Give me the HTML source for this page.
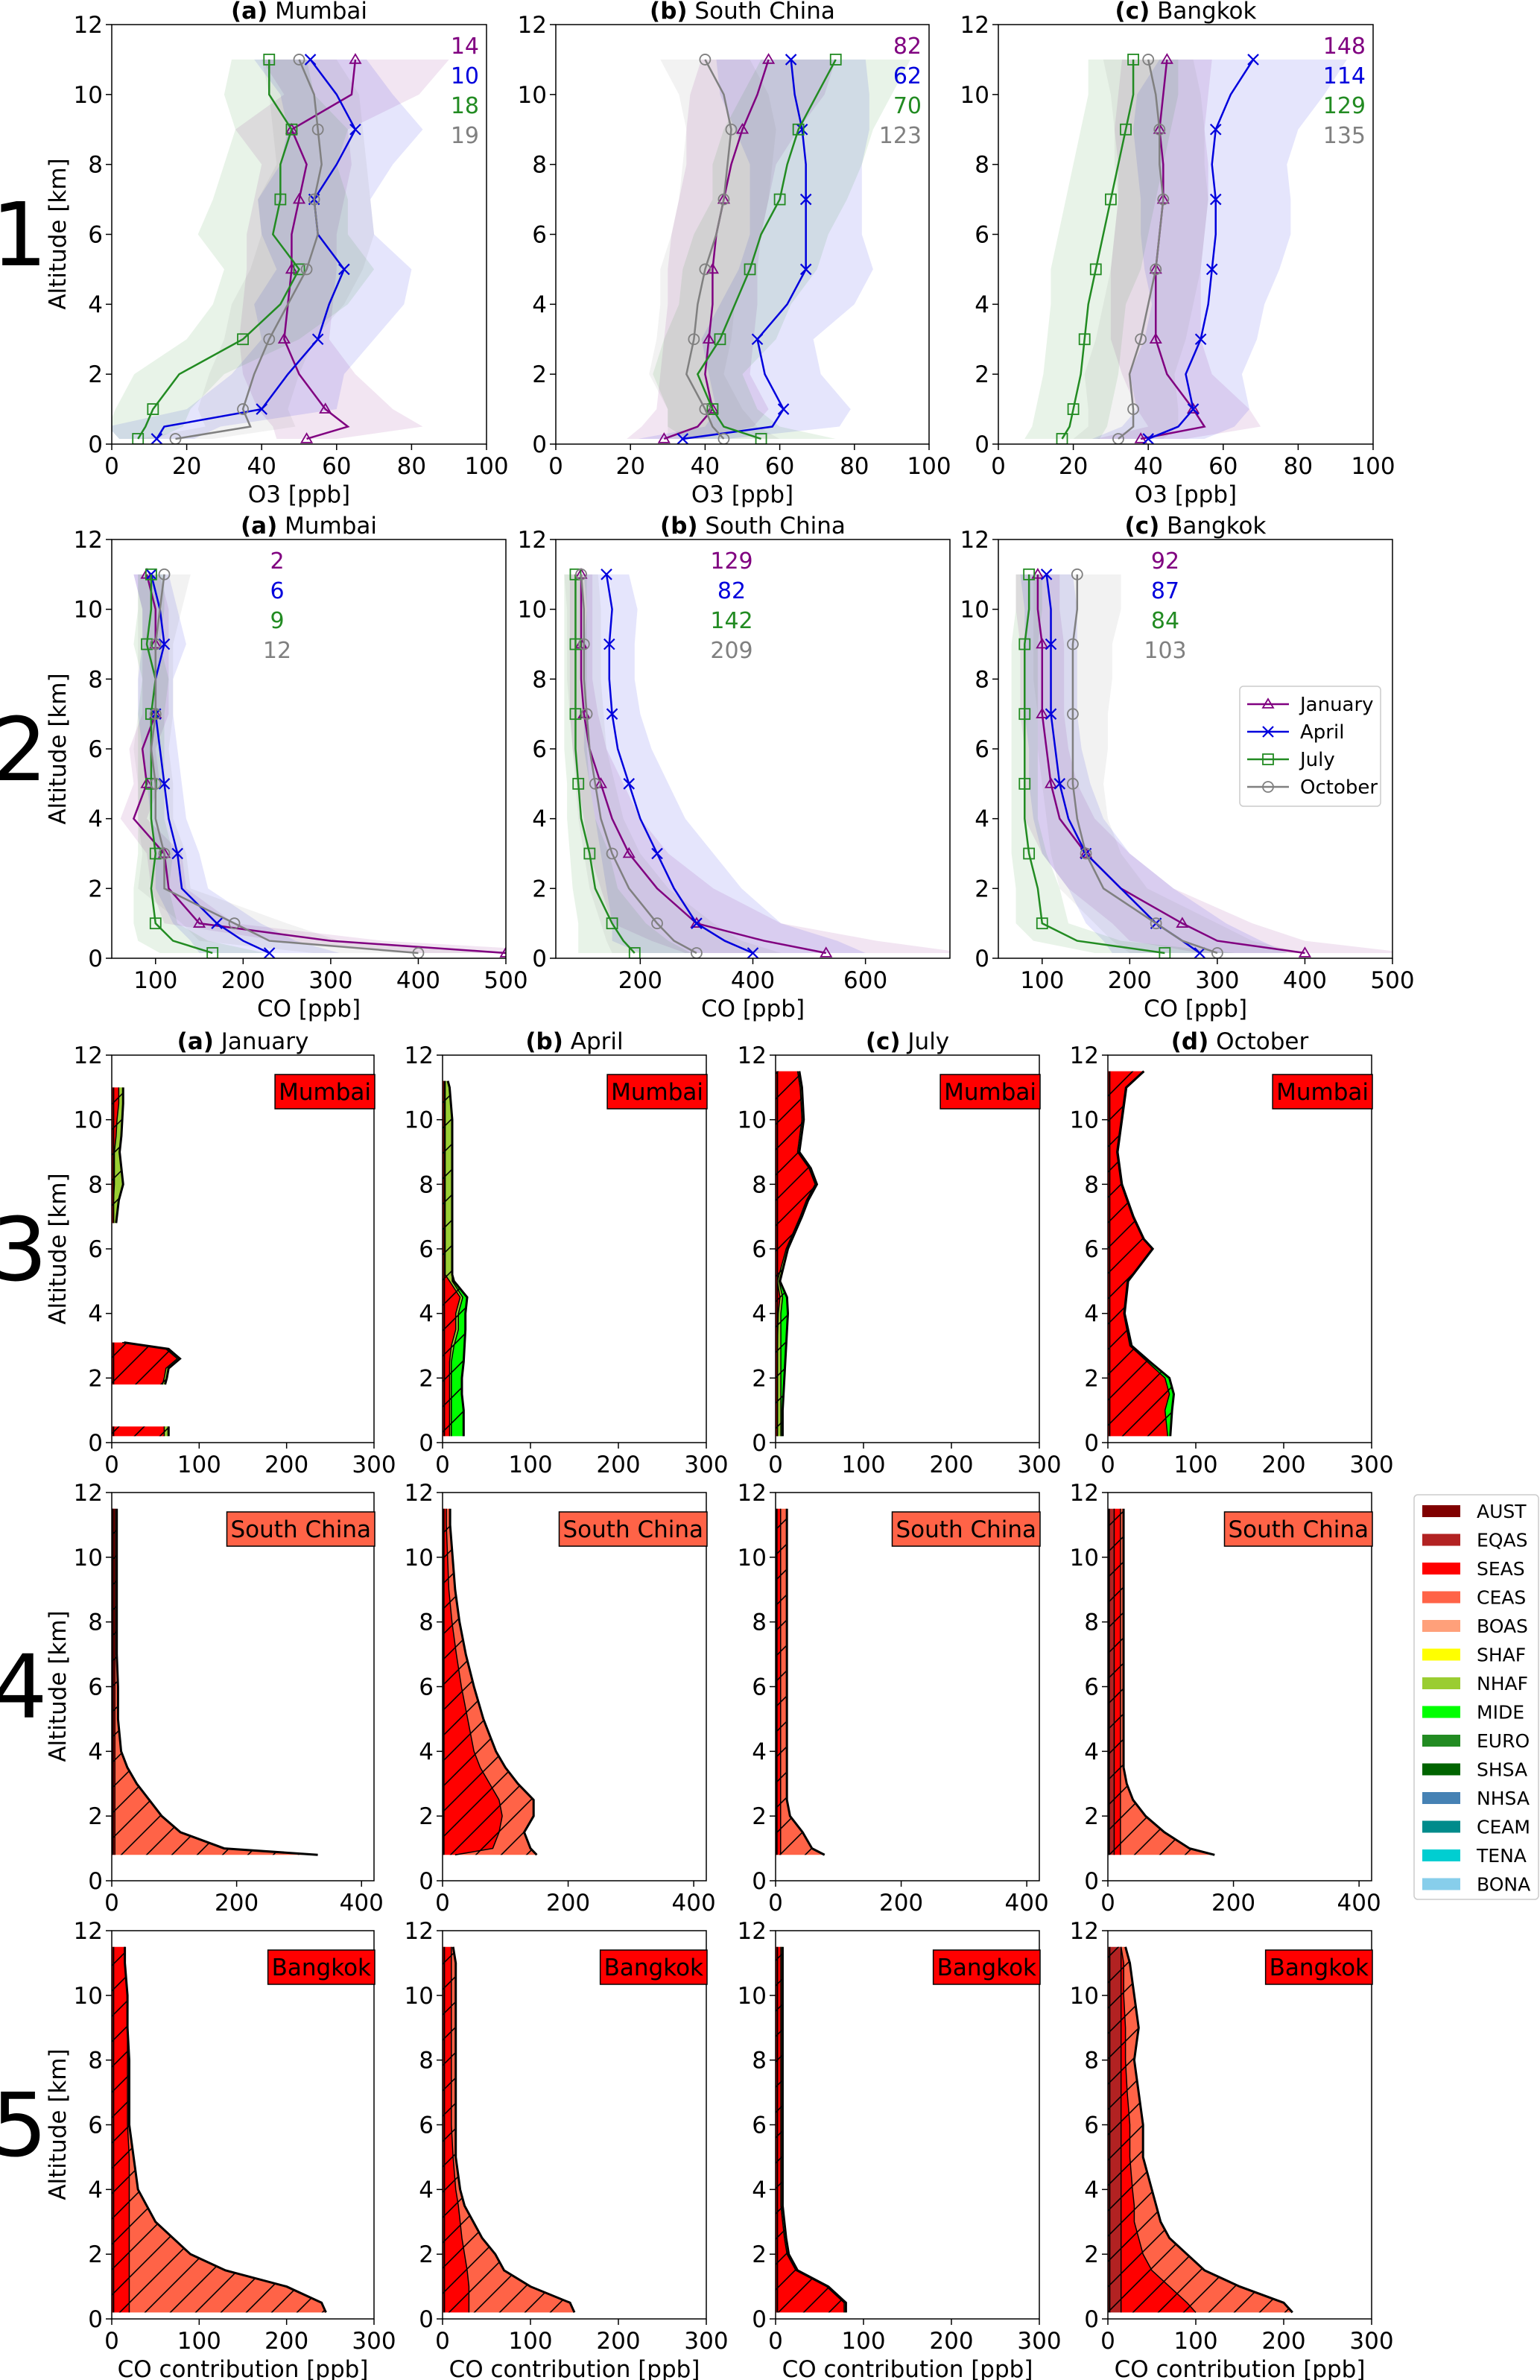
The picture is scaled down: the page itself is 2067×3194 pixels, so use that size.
<!DOCTYPE html>
<html><head><meta charset="utf-8">
<style>
html,body{margin:0;padding:0;background:#fff;}
svg{display:block;font-family:"DejaVu Sans","Liberation Sans",sans-serif;}
</style></head>
<body>
<svg id="fig" width="2067" height="3194" viewBox="0 0 2067 3194" xmlns="http://www.w3.org/2000/svg">
<defs>
<pattern id="hatch" patternUnits="userSpaceOnUse" width="34" height="34">
<line x1="0" y1="34" x2="34" y2="0" stroke="#000" stroke-width="1.6"/>
<line x1="-4" y1="4" x2="4" y2="-4" stroke="#000" stroke-width="1.6"/>
<line x1="30" y1="38" x2="38" y2="30" stroke="#000" stroke-width="1.6"/>
</pattern>
</defs>
</svg>
<script>
// ===== Profile data (rows 1-2) =====
const alt = [0.15,0.5,1,2,3,4,5,6,7,8,9,10,11];
const months = ['January','April','July','October'];
// Row 1 O3 [ppb]
const o3MumJan=[52,63,57,50,46,47,48,48,50,52,48,64,65];
const o3MumApr=[12,14,40,47,55,58,62,55,54,60,65,60,53];
const o3MumJul=[7,9,11,18,35,45,50,43,45,45,48,42,42];
const o3MumOct=[17,37,35,38,42,47,52,55,54,56,55,54,50];
const o3ScJan=[29,38,42,40,41,42,42,43,45,47,50,54,57];
const o3ScApr=[34,58,61,56,54,62,67,67,67,67,66,64,63];
const o3ScJul=[55,45,42,38,44,48,52,55,60,62,65,70,75];
const o3ScOct=[45,42,40,35,37,38,40,43,45,46,47,45,40];
const o3BkJan=[38,55,52,45,42,42,42,43,44,44,43,44,45];
const o3BkApr=[40,48,52,50,54,56,57,58,58,57,58,62,68];
const o3BkJul=[17,19,20,22,23,24,26,28,30,32,34,36,36];
const o3BkOct=[32,36,36,35,38,40,42,43,44,43,43,42,40];
const o3MumSpJan=[8,20,18,15,12,12,12,12,12,12,15,18,25];
const o3MumSpApr=[10,15,20,15,15,20,18,15,15,15,18,15,15];
const o3MumSpJul=[5,10,10,12,15,18,20,20,18,15,15,12,10];
const o3MumSpOct=[10,12,12,12,12,15,15,15,15,12,12,12,10];
const o3ScSpJan=[10,15,15,12,12,12,12,12,12,12,15,18,18];
const o3ScSpApr=[12,18,18,15,15,18,18,15,15,15,18,20,20];
const o3ScSpJul=[20,15,12,12,15,15,18,18,18,20,20,20,20];
const o3ScSpOct=[15,12,10,10,10,10,12,12,12,12,12,12,12];
const o3BkSpJan=[12,15,15,12,12,12,12,12,12,12,12,12,12];
const o3BkSpApr=[15,15,15,15,15,15,18,20,20,20,22,25,25];
const o3BkSpJul=[10,10,10,10,10,10,12,12,12,12,12,12,12];
const o3BkSpOct=[12,12,12,12,12,12,12,12,12,12,12,12,12];
const o3Counts=[[14,10,18,19],[82,62,70,123],[148,114,129,135]];
// Row 2 CO [ppb]
const coMumJan=[500,300,150,115,110,75,90,85,100,100,100,100,90];
const coMumApr=[230,200,170,130,125,115,110,105,100,100,110,105,95];
const coMumJul=[165,120,100,95,100,95,95,95,95,100,90,95,95];
const coMumOct=[400,230,190,110,110,100,100,95,100,100,100,105,110];
const coScJan=[530,420,300,230,180,150,130,110,100,95,95,95,95];
const coScApr=[400,350,300,260,230,200,180,160,150,145,145,150,140];
const coScJul=[190,170,150,120,110,95,90,85,85,85,85,85,85];
const coScOct=[300,260,230,180,150,130,120,110,105,100,100,100,95];
const coBkJan=[400,300,260,190,150,120,110,105,100,100,100,95,95];
const coBkApr=[280,260,230,190,150,130,120,115,110,110,110,110,105];
const coBkJul=[240,140,100,95,85,80,80,80,80,80,80,85,85];
const coBkOct=[300,260,230,170,150,140,135,135,135,135,135,140,140];
const coMumSpJan=[100,60,40,20,20,15,15,15,15,15,15,15,15];
const coMumSpApr=[80,60,50,30,25,20,20,20,20,20,25,20,20];
const coMumSpJul=[60,40,25,20,20,15,15,15,15,15,15,15,15];
const coMumSpOct=[120,80,60,30,25,20,20,20,20,20,20,25,30];
const coScSpJan=[250,200,150,100,70,50,40,30,25,20,20,20,20];
const coScSpApr=[200,200,150,120,100,80,70,60,50,45,45,45,40];
const coScSpJul=[100,80,60,40,35,25,20,20,20,20,20,20,20];
const coScSpOct=[150,120,100,70,50,40,35,30,30,30,30,30,30];
const coBkSpJan=[120,100,80,60,50,40,30,25,25,25,25,25,25];
const coBkSpApr=[100,90,80,60,50,40,35,30,30,30,30,30,30];
const coBkSpJul=[80,50,30,25,20,15,15,15,15,15,15,15,15];
const coBkSpOct=[100,80,70,50,40,35,35,40,40,45,45,50,50];
const coCounts=[[2,6,9,12],[129,82,142,209],[92,87,84,103]];

// ===== Stacked contribution data (rows 3-5) =====
const mumJanAlt=[0.2,0.5,1,1.8,2,2.3,2.6,2.9,3.1,4,6.8,7.5,8,8.5,9,9.5,10,10.5,11];
const mumJanSEAS=[60,60,null,58,60,62,75,62,12,null,2,2,3,3,3,5,6,8,8];
const mumJanNHAF=[5,5,null,3,3,3,3,3,2,null,3,6,10,8,6,6,6,5,5];
const mumAprAlt=[0.2,1,1.5,2,2.5,3,3.5,4,4.5,5,5.2,6,7,8,9,10,11,11.2];
const mumAprSEAS=[8,8,8,8,8,10,15,15,20,8,3,3,3,3,3,3,3,3];
const mumAprNHAF=[2,2,2,2,2,3,3,3,3,3,8,8,8,8,8,8,5,3];
const mumAprMIDE=[14,14,12,12,14,12,8,8,5,2,0,0,0,0,0,0,0,0];
const mumJulAlt=[0.2,1,2,3,4,4.5,5,6,7,7.5,8,8.5,9,10,11,11.5];
const mumJulSEAS=[2,2,2,2,3,5,2,12,28,35,45,38,25,30,28,25];
const mumJulNHAF=[4,4,4,4,3,3,2,2,2,2,2,2,2,2,2,2];
const mumJulMIDE=[2,2,4,6,8,5,1,0,0,0,0,0,0,0,0,0];
const mumOctAlt=[0.2,1,1.5,2,2.5,3,4,5,6,6.3,7,8,9,10,11,11.5];
const mumOctSEAS=[68,65,70,65,45,25,18,22,50,40,28,15,10,15,20,40];
const mumOctMIDE=[3,8,5,5,3,2,1,1,1,1,1,1,1,1,1,1];
const scAlt=[0.8,1,1.5,2,2.5,3,3.5,4,5,6,7,8,9,10,11,11.5];
const scJanSEAS=[5,5,5,5,5,5,5,5,5,5,5,5,5,5,5,5];
const scJanCEAS=[325,175,105,75,55,35,20,10,5,5,3,3,3,3,3,3];
const scAprSEAS=[20,80,90,95,90,75,60,50,40,30,22,15,10,8,6,6];
const scAprCEAS=[130,60,40,50,55,45,40,35,25,20,15,12,10,8,6,6];
const scJulSEAS=[8,8,8,8,8,8,8,8,8,8,8,8,8,8,8,8];
const scJulCEAS=[70,50,35,15,10,10,10,10,10,10,10,10,10,10,10,10];
const scOctEQAS=[10,10,10,10,10,10,10,10,10,10,10,10,10,10,10,10];
const scOctSEAS=[10,10,10,10,10,10,10,10,10,10,10,10,10,10,10,10];
const scOctCEAS=[150,110,70,40,20,10,5,5,5,5,5,5,5,5,5,5];
const bkAlt=[0.2,0.5,1,1.5,2,2.5,3,3.5,4,5,6,7,8,9,10,11,11.5];
const bkJanSEAS=[20,20,20,20,20,20,20,20,20,20,18,18,18,18,18,15,15];
const bkJanCEAS=[225,220,180,110,70,50,30,20,10,5,2,2,2,0,0,0,0];
const bkAprSEAS=[30,30,30,28,25,22,20,18,15,12,10,10,10,10,10,10,10];
const bkAprCEAS=[120,115,70,42,35,23,15,7,5,3,5,5,5,5,5,5,2];
const bkJulSEAS=[78,78,58,23,13,10,8,6,6,6,6,6,6,6,6,6,6];
const bkJulNHAF=[2,2,2,2,2,2,2,2,2,2,2,2,2,2,2,2,2];
const bkOctEQAS=[15,15,15,15,15,15,15,15,15,15,15,15,15,15,15,15,15];
const bkOctSEAS=[85,75,55,35,25,20,15,15,13,10,10,7,5,5,3,3,0];
const bkOctCEAS=[110,110,80,60,50,35,30,25,22,15,15,13,10,15,12,7,5];
const legendNames=['AUST','EQAS','SEAS','CEAS','BOAS','SHAF','NHAF','MIDE','EURO','SHSA','NHSA','CEAM','TENA','BONA'];

const COL={AUST:'#800000',EQAS:'#b22222',SEAS:'#ff0000',CEAS:'#ff6347',BOAS:'#ffa07a',SHAF:'#ffff00',NHAF:'#9acd32',MIDE:'#00ff00',EURO:'#228b22',SHSA:'#006400',NHSA:'#4682b4',CEAM:'#008b8b',TENA:'#00ced1',BONA:'#87ceeb'};
const MCOL=['#800080','#0000dd','#228b22','#808080'];
const MMARK=['tri','x','sq','circ'];

const NS='http://www.w3.org/2000/svg';
const svg=document.getElementById('fig');
function mk(tag,attrs,parent){const e=document.createElementNS(NS,tag);for(const k in attrs)e.setAttribute(k,attrs[k]);(parent||svg).appendChild(e);return e;}
function txt(x,y,s,size,anchor,parent,fill){const t=mk('text',{x:x,y:y,'font-size':size,'text-anchor':anchor||'middle',fill:fill||'#000'},parent);t.textContent=s;return t;}
let clipId=0;

function axes(x0,x1,y0,y1,xmin,xmax,xticks,showX,xlabel,title){
  const g=mk('g',{});
  
  
  const sx=v=>x0+(v-xmin)/(xmax-xmin)*(x1-x0);
  const sy=a=>y1-a/12*(y1-y0);
  const cid='c'+(clipId++);
  const cp=mk('clipPath',{id:cid},g);mk('rect',{x:x0,y:y0,width:x1-x0,height:y1-y0},cp);
  const plot=mk('g',{'clip-path':'url(#'+cid+')'},g);
  const top=mk('g',{},g);
  for(let a=0;a<=12;a+=2){
    mk('line',{x1:x0-8,x2:x0,y1:sy(a),y2:sy(a),stroke:'#000','stroke-width':1.5},top);
    const t=txt(x0-12,sy(a)+11,String(a),31,'end',top);
    
    
  }
  for(const v of xticks){
    mk('line',{x1:sx(v),x2:sx(v),y1:y1,y2:y1+8,stroke:'#000','stroke-width':1.5},top);
    if(showX){const t=txt(sx(v),y1+40,String(v),31,'middle',top);
      
      }
  }
  mk('rect',{x:x0,y:y0,width:x1-x0,height:y1-y0,fill:'none',stroke:'#000','stroke-width':1.5},top);
  if(xlabel){const t=txt((x0+x1)/2,y1+78,xlabel,31,'middle',top);
    
    }
  if(title){const t=mk('text',{x:(x0+x1)/2,y:y0-8,'font-size':31,'text-anchor':'middle'},top);
    const b=mk('tspan',{'font-weight':'bold'},t);b.textContent=title[0];
    const r=mk('tspan',{},t);r.textContent=' '+title[1];
    
    }
  return {sx,sy,plot,top};
}

function marker(kind,x,y,c,parent){
  const s=7;
  if(kind==='tri') return mk('polygon',{points:`${x},${y-s} ${x-s},${y+s*0.7} ${x+s},${y+s*0.7}`,fill:'none',stroke:c,'stroke-width':1.8},parent);
  if(kind==='x') return mk('path',{d:`M${x-s},${y-s}L${x+s},${y+s}M${x-s},${y+s}L${x+s},${y-s}`,stroke:c,'stroke-width':2.2},parent);
  if(kind==='sq') return mk('rect',{x:x-s,y:y-s,width:2*s,height:2*s,fill:'none',stroke:c,'stroke-width':1.8},parent);
  return mk('circle',{cx:x,cy:y,r:s,fill:'none',stroke:c,'stroke-width':1.8},parent);
}

function profilePanel(ax,series,spreads){
  for(let m=0;m<4;m++){
    const v=series[m],s=spreads[m];
    let pts=[];
    for(let i=0;i<alt.length;i++)pts.push(ax.sx(v[i]-s[i])+','+ax.sy(alt[i]));
    for(let i=alt.length-1;i>=0;i--)pts.push(ax.sx(v[i]+s[i])+','+ax.sy(alt[i]));
    const b=mk('polygon',{points:pts.join(' '),fill:MCOL[m],'fill-opacity':0.1,stroke:'none'},ax.plot);
    
    
  }
  for(let m=0;m<4;m++){
    const v=series[m];
    const pts=alt.map((a,i)=>ax.sx(v[i])+','+ax.sy(a)).join(' ');
    const l=mk('polyline',{points:pts,fill:'none',stroke:MCOL[m],'stroke-width':2.5},ax.plot);
    
    
    for(let i=0;i<alt.length;i+=2){
      const mm=marker(MMARK[m],ax.sx(v[i]),ax.sy(alt[i]),MCOL[m],ax.plot);
      
      
    }
  }
}

function stackPanel(ax,altArr,layers){
  const n=altArr.length;
  const cum=[new Array(n).fill(0)];
  for(const L of layers){const prev=cum[cum.length-1];cum.push(prev.map((p,i)=>(L.v[i]==null||p==null)?null:p+L.v[i]));}
  const segs=[];let cur=[];
  for(let i=0;i<n;i++){if(cum[cum.length-1][i]==null){if(cur.length)segs.push(cur);cur=[];}else cur.push(i);}
  if(cur.length)segs.push(cur);
  for(const sg of segs){
    layers.forEach((L,k)=>{
      const lo=cum[k],hi=cum[k+1];
      let pts=sg.map(i=>ax.sx(hi[i])+','+ax.sy(altArr[i]));
      pts=pts.concat(sg.slice().reverse().map(i=>ax.sx(lo[i])+','+ax.sy(altArr[i])));
      const p=mk('polygon',{points:pts.join(' '),fill:COL[L.n],stroke:'none'},ax.plot);
      
      
    });
    const tot=cum[cum.length-1];
    let hp=sg.map(i=>ax.sx(tot[i])+','+ax.sy(altArr[i]));
    hp=hp.concat(sg.slice().reverse().map(i=>ax.sx(0)+','+ax.sy(altArr[i])));
    const h=mk('polygon',{points:hp.join(' '),fill:'url(#hatch)',stroke:'none'},ax.plot);
    
    
    for(let k=1;k<cum.length;k++){
      const pl=mk('polyline',{points:sg.map(i=>ax.sx(cum[k][i])+','+ax.sy(altArr[i])).join(' '),fill:'none',stroke:'#000','stroke-width':k===cum.length-1?3:1.5},ax.plot);
      
      
    }
    const base=mk('polyline',{points:sg.map(i=>ax.sx(2)+','+ax.sy(altArr[i])).join(' '),fill:'none',stroke:'#000','stroke-width':2},ax.plot);
    
    
  }
}

function cityBox(ax,x1,y0,name,color){
  const r=mk('rect',{x:0,y:y0+26,width:10,height:46,fill:color,stroke:'#000','stroke-width':1.5},ax.top);
  
  
  const t=txt(0,y0+60,name,31,'middle',ax.top);
  
  
  let w=t.getComputedTextLength();
  if(!w||w<10)w=name.length*18;
  w+=10;
  r.setAttribute('x',x1+1-w);
  r.setAttribute('width',w);
  t.setAttribute('x',x1+1-w/2);
}

// ===== Row 1 & 2 =====
const r12X=[[150,653],[746,1247],[1340,1843]];
const r2X=[[150,679],[746,1275],[1340,1869]];
const cityNames=['Mumbai','South China','Bangkok'];
const letters=['(a)','(b)','(c)','(d)'];
const o3Series=[[o3MumJan,o3MumApr,o3MumJul,o3MumOct],[o3ScJan,o3ScApr,o3ScJul,o3ScOct],[o3BkJan,o3BkApr,o3BkJul,o3BkOct]];
const o3Spreads=[[o3MumSpJan,o3MumSpApr,o3MumSpJul,o3MumSpOct],[o3ScSpJan,o3ScSpApr,o3ScSpJul,o3ScSpOct],[o3BkSpJan,o3BkSpApr,o3BkSpJul,o3BkSpOct]];
const coSeries=[[coMumJan,coMumApr,coMumJul,coMumOct],[coScJan,coScApr,coScJul,coScOct],[coBkJan,coBkApr,coBkJul,coBkOct]];
const coSpreads=[[coMumSpJan,coMumSpApr,coMumSpJul,coMumSpOct],[coScSpJan,coScSpApr,coScSpJul,coScSpOct],[coBkSpJan,coBkSpApr,coBkSpJul,coBkSpOct]];
for(let c=0;c<3;c++){
  const ax=axes(r12X[c][0],r12X[c][1],33,596,0,100,[0,20,40,60,80,100],true,'O3 [ppb]',[letters[c],cityNames[c]]);
  profilePanel(ax,o3Series[c],o3Spreads[c]);
  for(let m=0;m<4;m++){
    const t=txt(r12X[c][1]-10,72+m*40,String(o3Counts[c][m]),30,'end',ax.top,MCOL[m]);
    
    
  }
  const xmax=c===1?750:500;
  const ticks=c===1?[200,400,600]:[100,200,300,400,500];
  const ax2=axes(r2X[c][0],r2X[c][1],724,1286,50,xmax,ticks,true,'CO [ppb]',[letters[c],cityNames[c]]);
  profilePanel(ax2,coSeries[c],coSpreads[c]);
  const cx=[372,982,1564][c];
  for(let m=0;m<4;m++){
    const t=txt(cx,763+m*40,String(coCounts[c][m]),30,'middle',ax2.top,MCOL[m]);
    
    
  }
}
{
  const g=mk('g',{});
  
  
  mk('rect',{x:1664,y:921,width:189,height:161,rx:5,fill:'#fff',stroke:'#ccc','stroke-width':1.5},g);
  for(let m=0;m<4;m++){
    const y=945+m*37;
    mk('line',{x1:1674,x2:1730,y1:y,y2:y,stroke:MCOL[m],'stroke-width':2.5},g);
    marker(MMARK[m],1702,y,MCOL[m],g);
    const t=txt(1745,y+9,months[m],26,'start',g);
    
    
  }
}

// ===== Rows 3-5 =====
const cols=[[150,502],[594,948],[1041,1395],[1487,1841]];
const rowsY=[[1416,1936],[2003,2524],[2591,3112]];
const mon4=['January','April','July','October'];
const stackData=[
 [
  [mumJanAlt,[{n:'SEAS',v:mumJanSEAS},{n:'NHAF',v:mumJanNHAF}]],
  [mumAprAlt,[{n:'SEAS',v:mumAprSEAS},{n:'NHAF',v:mumAprNHAF},{n:'MIDE',v:mumAprMIDE}]],
  [mumJulAlt,[{n:'SEAS',v:mumJulSEAS},{n:'NHAF',v:mumJulNHAF},{n:'MIDE',v:mumJulMIDE}]],
  [mumOctAlt,[{n:'SEAS',v:mumOctSEAS},{n:'MIDE',v:mumOctMIDE}]]
 ],[
  [scAlt,[{n:'SEAS',v:scJanSEAS},{n:'CEAS',v:scJanCEAS}]],
  [scAlt,[{n:'SEAS',v:scAprSEAS},{n:'CEAS',v:scAprCEAS}]],
  [scAlt,[{n:'SEAS',v:scJulSEAS},{n:'CEAS',v:scJulCEAS}]],
  [scAlt,[{n:'EQAS',v:scOctEQAS},{n:'SEAS',v:scOctSEAS},{n:'CEAS',v:scOctCEAS}]]
 ],[
  [bkAlt,[{n:'SEAS',v:bkJanSEAS},{n:'CEAS',v:bkJanCEAS}]],
  [bkAlt,[{n:'SEAS',v:bkAprSEAS},{n:'CEAS',v:bkAprCEAS}]],
  [bkAlt,[{n:'SEAS',v:bkJulSEAS},{n:'NHAF',v:bkJulNHAF}]],
  [bkAlt,[{n:'EQAS',v:bkOctEQAS},{n:'SEAS',v:bkOctSEAS},{n:'CEAS',v:bkOctCEAS}]]
 ]];
const boxCity=[['Mumbai','#ff0000'],['South China','#ff6347'],['Bangkok','#ff0000']];
for(let r=0;r<3;r++){
  for(let c=0;c<4;c++){
    const xmax=r===1?420:300;
    const ticks=r===1?[0,200,400]:[0,100,200,300];
    const ax=axes(cols[c][0],cols[c][1],rowsY[r][0],rowsY[r][1],0,xmax,ticks,true,r===2?'CO contribution [ppb]':null,r===0?[letters[c],mon4[c]]:null);
    stackPanel(ax,stackData[r][c][0],stackData[r][c][1]);
    cityBox(ax,cols[c][1],rowsY[r][0],boxCity[r][0],boxCity[r][1]);
  }
}
{
  const g=mk('g',{});
  
  
  mk('rect',{x:1898,y:2006,width:167,height:543,rx:5,fill:'#fff',stroke:'#ccc','stroke-width':1.5},g);
  legendNames.forEach((nm,i)=>{
    const y=2028+i*38.5;
    mk('rect',{x:1909,y:y-8,width:51,height:16,fill:COL[nm]},g);
    const t=txt(1982,y+9,nm,25,'start',g);
    
    
  });
}
const rowCenters=[314,1005,1676,2263,2851];
rowCenters.forEach((yc,i)=>{
  const t=mk('text',{x:0,y:0,'font-size':31,'text-anchor':'middle',transform:`translate(88,${yc}) rotate(-90)`});
  t.textContent='Altitude [km]';
  
  
  const n=txt(26,yc+42,String(i+1),118,'middle');
  
  
});
</script>
</body></html>
